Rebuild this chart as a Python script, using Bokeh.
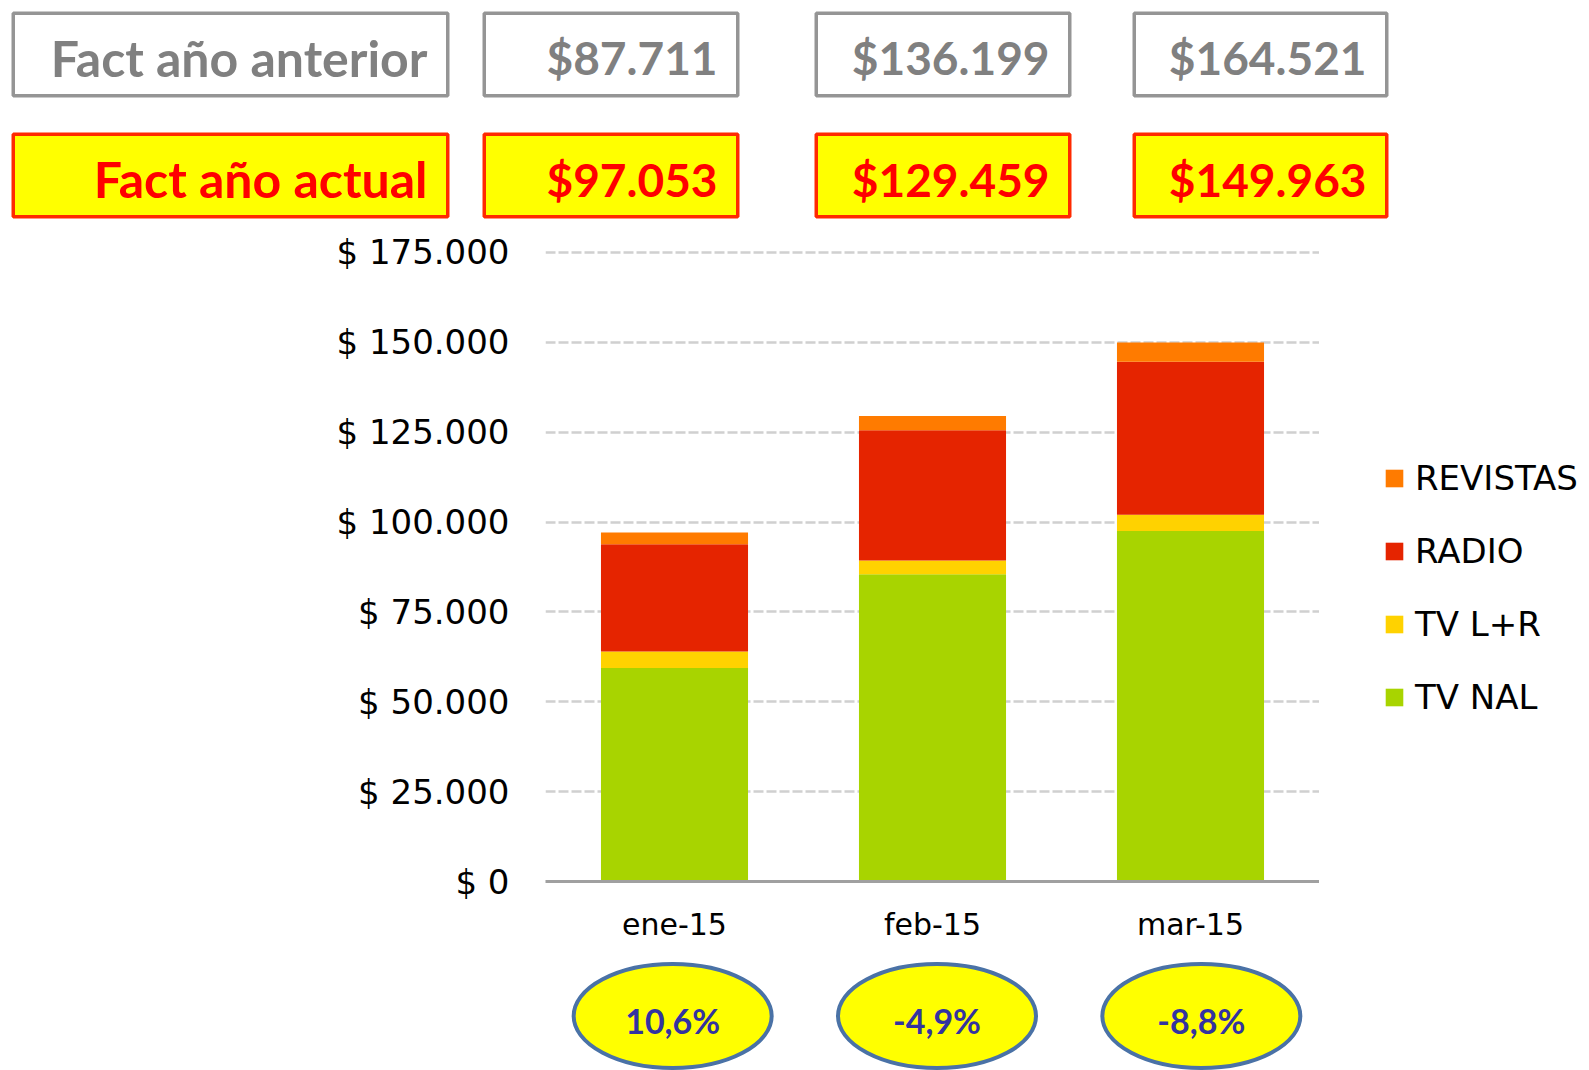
from bokeh.plotting import figure
from bokeh.models import FactorRange, Range1d, FixedTicker, Legend, LegendItem, ColumnDataSource
from bokeh.layouts import column, row
from bokeh.embed import file_html
from bokeh.resources import INLINE
from bokeh.core.properties import value

# ---------------- data ----------------
months = ["ene-15", "feb-15", "mar-15"]
series = ["TV NAL", "TV L+R", "RADIO", "REVISTAS"]
tv_nal = [59400, 85500, 97500]
tv_lr = [4600, 3800, 4500]
radio = [29800, 36200, 42600]
revistas = [3253, 3959, 5363]
prev_year = [87711, 136199, 164521]
curr_year = [97053, 129459, 149963]
pct_change = ["10,6%", "-4,9%", "-8,8%"]
row_labels = ["Fact año anterior", "Fact año actual"]
y_ticks = [0, 25000, 50000, 75000, 100000, 125000, 150000, 175000]
y_tick_labels = ["$ 0", "$ 25.000", "$ 50.000", "$ 75.000", "$ 100.000",
                 "$ 125.000", "$ 150.000", "$ 175.000"]

colors = ["#a8d400", "#ffd200", "#e52400", "#ff7b00"]


def money(v):
    return "$" + f"{v:,}".replace(",", ".")


def no_align(fig):
    if "frame_align" in fig.properties():
        fig.frame_align = False


def bare(fig):
    no_align(fig)
    fig.outline_line_color = None
    fig.xgrid.visible = False
    fig.ygrid.visible = False


W = 1589
FRAME_L = 545
FRAME_R = 1319

# ---------------- header ----------------
HH = 230
col_left = [11, 482, 814, 1132]
col_right = [449, 739, 1071, 1388]
row_top = [11, 132]
row_bottom = [97, 218]
row_mid = [57, 178.5]
lw = 3.5

hdr_rows = [[row_labels[0]] + [money(v) for v in prev_year],
            [row_labels[1]] + [money(v) for v in curr_year]]
hdr_size = ["50px", "46px", "46px", "46px"]
row_fill = ["#ffffff", "#ffff00"]
row_line = ["#959595", "#ff2a00"]
row_text = ["#808080", "#ff0000"]

h = figure(width=W, height=HH, x_range=Range1d(0, W), y_range=Range1d(HH, 0),
           toolbar_location=None, output_backend="svg", min_border=0,
           x_axis_location=None, y_axis_location=None)
bare(h)
for r in range(2):
    hsrc = ColumnDataSource(dict(
        left=[l + lw / 2 for l in col_left],
        right=[rr - lw / 2 for rr in col_right],
        top=[row_top[r] + lw / 2] * 4,
        bottom=[row_bottom[r] - lw / 2] * 4,
        tx=[rr - 22 for rr in col_right],
        ty=[row_mid[r]] * 4,
        txt=hdr_rows[r],
        fs=hdr_size,
    ))
    h.quad(left="left", right="right", top="top", bottom="bottom", source=hsrc,
           fill_color=row_fill[r], line_color=row_line[r], line_width=lw)
    h.text(x="tx", y="ty", text="txt", source=hsrc, text_align="right",
           text_baseline="middle", text_font=value("Lato"),
           text_font_style="bold", text_font_size="fs",
           text_color=row_text[r])

# ---------------- main chart ----------------
MH = 720
p = figure(width=FRAME_R, height=MH, x_range=FactorRange(*months),
           y_range=Range1d(0, 176920), toolbar_location=None,
           output_backend="svg", min_border_left=FRAME_L,
           min_border_right=0, min_border_top=15, min_border_bottom=69)
no_align(p)
p.outline_line_color = None

keys = ["tv_nal", "tv_lr", "radio", "revistas"]
src = ColumnDataSource(dict(month=months, tv_nal=tv_nal, tv_lr=tv_lr,
                            radio=radio, revistas=revistas))
rends = p.vbar_stack(keys, x="month", width=0.57, fill_color=colors,
                     line_color=None, source=src)

p.yaxis.ticker = FixedTicker(ticks=y_ticks)
p.yaxis.major_label_overrides = {t: l for t, l in zip(y_ticks, y_tick_labels)}
p.yaxis.axis_line_color = None
p.yaxis.major_tick_line_color = None
p.yaxis.minor_tick_line_color = None
p.yaxis.major_label_standoff = 30
p.yaxis.major_label_text_font = "DejaVu Sans"
p.yaxis.major_label_text_font_size = "34px"
p.yaxis.major_label_text_color = "#000000"

p.xaxis.axis_line_color = "#a0a0a0"
p.xaxis.axis_line_width = 3
p.xaxis.major_tick_line_color = None
p.xaxis.minor_tick_line_color = None
p.xaxis.major_label_standoff = 19
p.xaxis.major_label_text_font = "DejaVu Sans"
p.xaxis.major_label_text_font_size = "30px"
p.xaxis.major_label_text_color = "#000000"

p.xgrid.visible = False
p.ygrid.grid_line_color = "#d0d0d0"
p.ygrid.grid_line_width = 2.5
p.ygrid.grid_line_dash = "10 3"

# ---------------- legend panel (same series, zero-width, out of view) ----------------
lg = figure(width=W - FRAME_R, height=MH, x_range=FactorRange(*months),
            y_range=Range1d(-2, -1), toolbar_location=None, output_backend="svg",
            min_border=0, x_axis_location=None, y_axis_location=None)
bare(lg)
lrends = lg.vbar_stack(keys, x="month", width=0, fill_color=colors,
                       line_color=None, source=src)
legend = Legend(items=[LegendItem(label=series[i], renderers=[lrends[i]]) for i in [3, 2, 1, 0]],
                location=(1383 - FRAME_R, 950 - 717), orientation="vertical",
                label_text_font="DejaVu Sans", label_text_font_size="34px",
                label_text_color="#000000",
                glyph_width=22, glyph_height=22, label_standoff=10,
                spacing=33, padding=0, margin=0,
                border_line_color=None, background_fill_alpha=0)
lg.add_layout(legend, "center")

# ---------------- footer ----------------
FH = 120
f = figure(width=W, height=FH, x_range=FactorRange(*months), y_range=Range1d(FH, 0),
           toolbar_location=None, output_backend="svg",
           min_border_left=540, min_border_right=256,
           min_border_top=0, min_border_bottom=0,
           x_axis_location=None, y_axis_location=None)
bare(f)
fsrc = ColumnDataSource(dict(month=months, pct=pct_change,
                             ey=[1015.5 - 950] * 3, ty=[1020 - 950] * 3))
f.ellipse(x="month", y="ey", width=198, height=104, width_units="screen",
          height_units="screen", source=fsrc, fill_color="#ffff00",
          line_color="#4a72a6", line_width=4)
f.text(x="month", y="ty", text="pct", source=fsrc, text_align="center",
       text_baseline="middle", text_font=value("Lato"), text_font_style="bold",
       text_font_size="34px", text_color="#3333a0")

layout = column(h, row(p, lg, spacing=0), f, spacing=0)
open("out.html", "w").write(file_html(layout, INLINE))
